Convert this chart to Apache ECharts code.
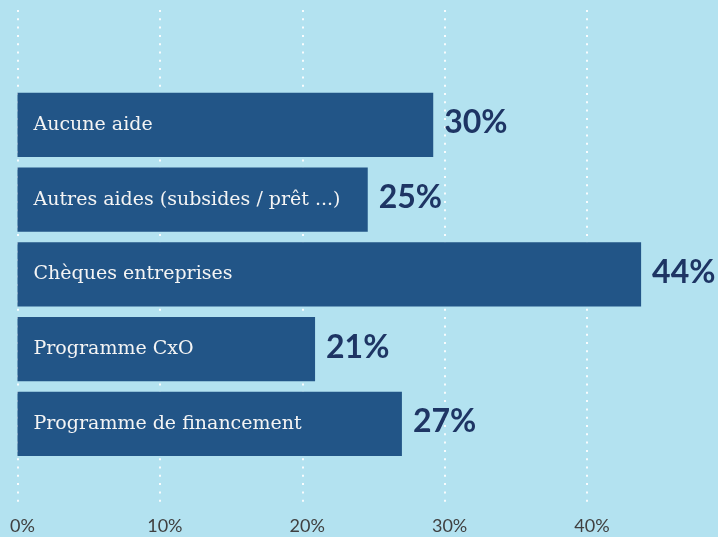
<!DOCTYPE html>
<html><head><meta charset="utf-8">
<script src="https://cdn.jsdelivr.net/npm/echarts@6/dist/echarts.min.js"></script>
<style>html,body{margin:0;padding:0;background:#b3e2f0;}#c{width:718px;height:537px;}</style>
</head><body><div id="c"></div>
<script>
const categories = ["Aucune aide", "Autres aides (subsides / prêt ...)", "Chèques entreprises", "Programme CxO", "Programme de financement"];
const values = [29.2, 24.6, 43.8, 20.9, 27.0];
const valueLabels = ["30%", "25%", "44%", "21%", "27%"];
const tickValues = [0, 10, 20, 30, 40];

const chart = echarts.init(document.getElementById('c'));
chart.setOption({
  backgroundColor: '#b3e2f0',
  animation: false,
  grid: [
    {left: 17.5, width: 569.5, top: 10, height: 496},
    {left: 17.5, width: 569.5, top: 87.6, height: 373.7}
  ],
  xAxis: [
    {gridIndex: 0, type: 'value', min: 0, max: 40, interval: 10,
     axisLine: {show: false}, axisTick: {show: false},
     splitLine: {show: true, lineStyle: {color: 'rgba(255,255,255,0.9)', width: 2, type: [2, 6.3]}},
     axisLabel: {margin: 11, padding: [0,0,0,10], color: '#404040', fontFamily: 'Lato', fontSize: 18,
       formatter: v => tickValues.indexOf(v) >= 0 ? v + '%' : ''}},
    {gridIndex: 1, type: 'value', min: 0, max: 40, show: false}
  ],
  yAxis: [
    {gridIndex: 0, type: 'value', min: 0, max: 1, show: false},
    {gridIndex: 1, type: 'category', data: categories, inverse: true, show: false}
  ],
  series: [
    {type: 'bar', xAxisIndex: 1, yAxisIndex: 1, data: values, barCategoryGap: '14%', clip: false,
     itemStyle: {color: '#225587'},
     label: {show: true, position: 'insideLeft', distance: 16, color: '#f4f4f4',
       fontFamily: 'DejaVu Serif', fontSize: 19,
       formatter: p => categories[p.dataIndex]}},
    {type: 'bar', xAxisIndex: 1, yAxisIndex: 1, data: values, barCategoryGap: '14%', barGap: '-100%', clip: false,
     itemStyle: {color: 'rgba(0,0,0,0)'}, silent: true,
     label: {show: true, position: 'right', distance: 11, offset: [0, -2], color: '#1e3564',
       fontFamily: 'Lato', fontWeight: 'bold', fontSize: 32,
       formatter: p => valueLabels[p.dataIndex]}}
  ]
});
</script></body></html>
